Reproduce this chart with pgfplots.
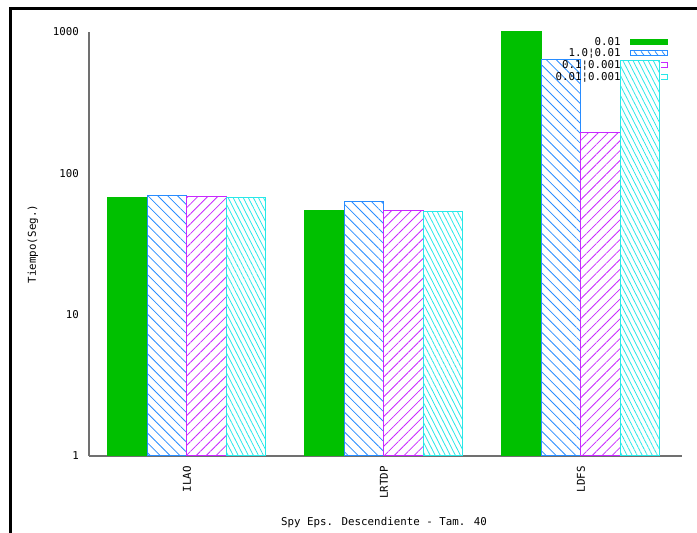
\documentclass[border=0pt]{standalone}
\usepackage{pgfplots}
\pgfplotsset{compat=1.18}
\usepackage{fontspec}
\setmainfont{DejaVu Sans Mono}
\usetikzlibrary{patterns.meta}
\definecolor{cgreen}{RGB}{0,192,0}
\definecolor{cblue}{RGB}{40,140,255}
\definecolor{cmag}{RGB}{200,40,255}
\definecolor{ccyan}{RGB}{40,232,232}
\definecolor{axgray}{RGB}{112,112,112}
\newcommand{\chfont}{\fontsize{10.8}{12}\selectfont}
% legend sample showing only the visible right tail (rest hidden behind a bar)
\newcommand{\tailsample}[1]{%
  \pgfpathrectangle{\pgfpoint{0pt}{-2.5pt}}{\pgfpoint{37pt}{5pt}}%
  \pgfusepath{use as bounding box}%
  \pgfsetstrokecolor{#1}\pgfsetlinewidth{1pt}%
  \pgfpathmoveto{\pgfpoint{31pt}{2.5pt}}%
  \pgfpathlineto{\pgfpoint{37pt}{2.5pt}}%
  \pgfpathlineto{\pgfpoint{37pt}{-2.5pt}}%
  \pgfpathlineto{\pgfpoint{31pt}{-2.5pt}}%
  \pgfusepath{stroke}}
\newcommand{\bluesample}{%
  \pgfpathrectangle{\pgfpoint{0pt}{-2.5pt}}{\pgfpoint{37pt}{5pt}}%
  \pgfsetfillcolor{white}\pgfsetstrokecolor{cblue}\pgfsetlinewidth{1pt}%
  \pgfusepath{fill,stroke}%
  \pgfsetlinewidth{0.8pt}%
  \foreach \xx in {4,11,18,25,32}{%
    \pgfpathmoveto{\pgfpoint{\xx pt}{2pt}}%
    \pgfpathlineto{\pgfpoint{\xx pt + 3pt}{-2pt}}}%
  \pgfusepath{stroke}}
\begin{document}
\begin{tikzpicture}[x=1pt,y=1pt]
\useasboundingbox (0,0) rectangle (697,533);
\draw[line width=3pt] (10.5,0) -- (10.5,524.5) -- (697,524.5);
\begin{axis}[
  at={(89pt,77pt)}, anchor=south west,
  scale only axis, width=593pt, height=424pt,
  ymode=log, ymin=1, ymax=1000,
  xmin=-0.497, xmax=2.513,
  ybar=0pt, bar width=39.5pt,
  axis lines*=left,
  axis line style={axgray, line width=1.2pt},
  major tick length=0pt, yminorticks=false,
  ytick={1,10,100,1000}, yticklabels={1,10,100,1000},
  xtick={0,1,2}, xticklabels={ILAO,LRTDP,LDFS},
  tick label style={font=\chfont},
  xticklabel style={rotate=90, anchor=east, inner sep=0pt},
  xticklabel shift=10pt,
  yticklabel style={anchor=east, inner sep=0pt},
  yticklabel shift=10pt,
  xlabel={Spy Eps. Descendiente - Tam. 40},
  ylabel={Tiempo(Seg.)},
  label style={font=\chfont},
  xlabel style={at={(axis description cs:0.4975,-0.158)}, anchor=center},
  ylabel style={at={(axis description cs:-0.0944,0.5)}, anchor=center},
  legend cell align=right,
  legend plot pos=right,
  legend style={at={(0.981,0.993)}, anchor=north east, draw=none, fill=none,
    font=\chfont, column sep=9pt, row sep=2.7pt,
    nodes={inner sep=0pt, text height=8pt, text depth=1pt}},
]
\addplot[draw=cgreen, fill=cgreen, line width=1pt,
  legend image code/.code={\fill[cgreen] (0pt,-2.5pt) rectangle (37pt,2.5pt);}]
  coordinates {(0,67.7) (1,55) (2,1000)};
\addlegendentry{0.01}
\addplot[draw=cblue, line width=1pt,
  pattern={Lines[angle=-45,distance=7pt,line width=0.8pt]}, pattern color=cblue,
  legend image code/.code={\bluesample}]
  coordinates {(0,69.9) (1,63) (2,641)};
\addlegendentry{1.0¦0.01}
\addplot[draw=cmag, line width=1pt,
  pattern={Lines[angle=45,distance=7pt,line width=0.8pt]}, pattern color=cmag,
  legend image code/.code={\tailsample{cmag}}]
  coordinates {(0,68.8) (1,55) (2,195)};
\addlegendentry{0.1¦0.001}
\addplot[draw=ccyan, line width=1pt,
  pattern={Lines[angle=-63,distance=4.5pt,line width=0.8pt]}, pattern color=ccyan,
  legend image code/.code={\tailsample{ccyan}}]
  coordinates {(0,68) (1,54.1) (2,624)};
\addlegendentry{0.01¦0.001}
\end{axis}
\end{tikzpicture}
\end{document}
